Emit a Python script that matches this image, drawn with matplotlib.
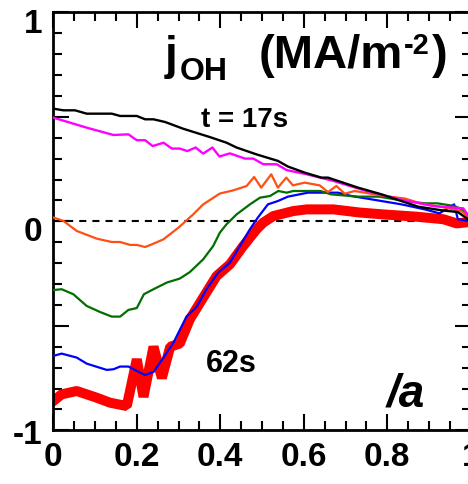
import matplotlib
matplotlib.use("Agg")
import matplotlib.pyplot as plt
from matplotlib.ticker import FixedLocator, FixedFormatter, MultipleLocator
from matplotlib.transforms import ScaledTranslation

plt.rcParams['font.family'] = ['Liberation Sans', 'DejaVu Sans']

# ---- data ----
x_17s = [0, 0.024, 0.052, 0.080, 0.140, 0.160, 0.200, 0.220, 0.240, 0.268, 0.311, 0.375,
         0.415, 0.439, 0.487, 0.538, 0.562, 0.602, 0.642, 0.658, 0.730, 0.786, 0.874,
         0.929, 0.969, 1.0]
y_17s = [0.539, 0.531, 0.531, 0.515, 0.515, 0.504, 0.504, 0.488, 0.488, 0.475, 0.443, 0.403,
         0.376, 0.353, 0.320, 0.289, 0.262, 0.233, 0.209, 0.209, 0.161, 0.129, 0.070,
         0.053, 0.044, 0.0]

x_pink = [0, 0.04, 0.08, 0.144, 0.18, 0.2, 0.22, 0.238, 0.264, 0.284, 0.303, 0.321, 0.341,
          0.359, 0.381, 0.398, 0.423, 0.459, 0.479, 0.503, 0.535, 0.559, 0.607, 0.671, 0.75,
          0.83, 0.91, 0.982, 1.0]
y_pink = [0.496, 0.472, 0.448, 0.413, 0.416, 0.388, 0.388, 0.360, 0.376, 0.348, 0.348, 0.336,
          0.353, 0.324, 0.353, 0.310, 0.325, 0.300, 0.300, 0.273, 0.273, 0.245, 0.225, 0.193,
          0.145, 0.105, 0.073, 0.062, 0.01]

x_orange = [0, 0.024, 0.056, 0.104, 0.14, 0.16, 0.184, 0.2, 0.22, 0.24, 0.264, 0.3, 0.335,
            0.359, 0.399, 0.431, 0.463, 0.481, 0.498, 0.522, 0.538, 0.558, 0.574, 0.602,
            0.638, 0.658, 0.678, 0.698, 0.722, 0.754, 0.794, 0.842, 0.881, 0.937, 0.977, 1.0]
y_orange = [0.018, 0.002, -0.046, -0.083, -0.099, -0.099, -0.113, -0.113, -0.123, -0.107,
            -0.086, -0.030, 0.033, 0.081, 0.133, 0.148, 0.169, 0.212, 0.161, 0.225, 0.161,
            0.209, 0.172, 0.185, 0.172, 0.140, 0.169, 0.132, 0.145, 0.134, 0.121, 0.109,
            0.085, 0.066, 0.049, 0.01]

x_green = [0, 0.02, 0.048, 0.08, 0.112, 0.14, 0.16, 0.18, 0.2, 0.217, 0.24, 0.272, 0.303,
           0.327, 0.359, 0.383, 0.399, 0.415, 0.439, 0.471, 0.495, 0.519, 0.539, 0.559,
           0.575, 0.64, 0.665, 0.73, 0.78, 0.842, 0.89, 0.92, 0.961, 0.979, 1.0]
y_green = [-0.329, -0.325, -0.349, -0.405, -0.434, -0.456, -0.456, -0.424, -0.415, -0.349,
           -0.325, -0.293, -0.274, -0.243, -0.182, -0.118, -0.054, -0.014, 0.033, 0.081,
           0.113, 0.121, 0.145, 0.137, 0.145, 0.145, 0.129, 0.118, 0.118, 0.097, 0.086,
           0.086, 0.073, 0.057, 0.0]

x_blue = [0, 0.02, 0.056, 0.08, 0.128, 0.144, 0.16, 0.18, 0.2, 0.22, 0.24, 0.264, 0.288,
          0.319, 0.343, 0.367, 0.395, 0.423, 0.447, 0.471, 0.49, 0.514, 0.538, 0.562, 0.61,
          0.682, 0.714, 0.786, 0.834, 0.89, 0.925, 0.96, 0.969, 1.0]
y_blue = [-0.644, -0.633, -0.652, -0.681, -0.711, -0.708, -0.695, -0.695, -0.716, -0.735,
          -0.721, -0.652, -0.580, -0.456, -0.410, -0.325, -0.245, -0.198, -0.118, -0.038,
          0.018, 0.081, 0.097, 0.118, 0.137, 0.137, 0.121, 0.097, 0.081, 0.057, 0.038,
          0.081, 0.01, 0.0]

x_62s = [0, 0.02, 0.056, 0.104, 0.136, 0.176, 0.2, 0.216, 0.24, 0.26, 0.28, 0.303, 0.327,
         0.359, 0.391, 0.423, 0.455, 0.487, 0.503, 0.527, 0.575, 0.607, 0.671, 0.734, 0.79,
         0.87, 0.934, 0.966, 1.0]
y_62s = [-0.860, -0.828, -0.812, -0.844, -0.868, -0.884, -0.660, -0.840, -0.600, -0.750,
         -0.600, -0.585, -0.469, -0.365, -0.262, -0.206, -0.118, -0.038, -0.006, 0.025,
         0.049, 0.057, 0.057, 0.042, 0.033, 0.022, 0.010, -0.010, -0.003]

x_ticks = [0, 0.2, 0.4, 0.6, 0.8, 1.0]
x_ticklabels = ['0', '0.2', '0.4', '0.6', '0.8', '1']
y_ticks = [-1, -0.5, 0, 0.5, 1]
y_ticklabels = ['-1', '', '0', '', '1']

# ---- figure ----
W, H = 468, 485
fig = plt.figure(figsize=(W / 100, H / 100), dpi=100)
ax = fig.add_axes([53.3 / W, 1 - 431.3 / H, 417.5 / W, 418 / H])
ax.set_xlim(0, 1)
ax.set_ylim(-1, 1)

ax.axhline(0, color='black', lw=1.5, dashes=(3.4, 2.9), zorder=1)

ax.plot(x_62s, y_62s, color='#ff0000', lw=7.2, solid_joinstyle='bevel', zorder=2)
ax.plot(x_blue, y_blue, color='#0000ff', lw=1.6, zorder=3)
ax.plot(x_green, y_green, color='#006e00', lw=1.6, zorder=3)
ax.plot(x_orange, y_orange, color='#ff5014', lw=1.6, zorder=3)
ax.plot(x_pink, y_pink, color='#ff00ff', lw=1.7, zorder=4)
ax.plot(x_17s, y_17s, color='black', lw=1.7, zorder=5)

for s in ax.spines.values():
    s.set_linewidth(2.0)

ax.xaxis.set_major_locator(FixedLocator(x_ticks))
ax.xaxis.set_major_formatter(FixedFormatter(x_ticklabels))
ax.xaxis.set_minor_locator(MultipleLocator(0.05))
ax.yaxis.set_major_locator(FixedLocator(y_ticks))
ax.yaxis.set_major_formatter(FixedFormatter(y_ticklabels))
ax.yaxis.set_minor_locator(MultipleLocator(0.1))

ax.tick_params(which='both', direction='in', top=True, right=True, width=1.5)
ax.tick_params(which='major', length=11.5)
ax.tick_params(which='minor', length=6.8)
ax.tick_params(axis='x', which='major', pad=8)
ax.tick_params(axis='y', which='major', pad=8)
for lab in ax.get_xticklabels() + ax.get_yticklabels():
    lab.set_fontsize(24)
    lab.set_fontweight('bold')

# small downward shifts of the y tick labels, as in the reference
y_label_shift_px = [1, 0, 7, 0, 8]
for tick, dpx in zip(ax.yaxis.get_major_ticks(), y_label_shift_px):
    lab = tick.label1
    lab.set_transform(lab.get_transform() + ScaledTranslation(0, -dpx / 100, fig.dpi_scale_trans))

renderer = fig.canvas.get_renderer()


def ftxt(px, py, s, size, **kw):
    return fig.text(px / W, 1 - py / H, s, fontsize=size, fontweight='bold',
                    ha='left', va='baseline', **kw)


def right_px(t):
    return t.get_window_extent(renderer).x1


# header: j_OH (MA/m^-2)
t_j = ftxt(165, 69, 'j', 33)
t_oh = ftxt(right_px(t_j) + 2, 80, 'OH', 23)
t_ma = ftxt(259, 68, '(MA/m', 34)
t_sup = ftxt(right_px(t_ma) + 1, 54, '-2', 21)
t_par = ftxt(right_px(t_sup) + 2, 68, ')', 34)

ftxt(201, 127, 't = 17s', 20)
ftxt(206, 372, '62s', 22)
ftxt(387, 407, '/a', 33, style='italic')

fig.savefig('out.png', dpi=100)
